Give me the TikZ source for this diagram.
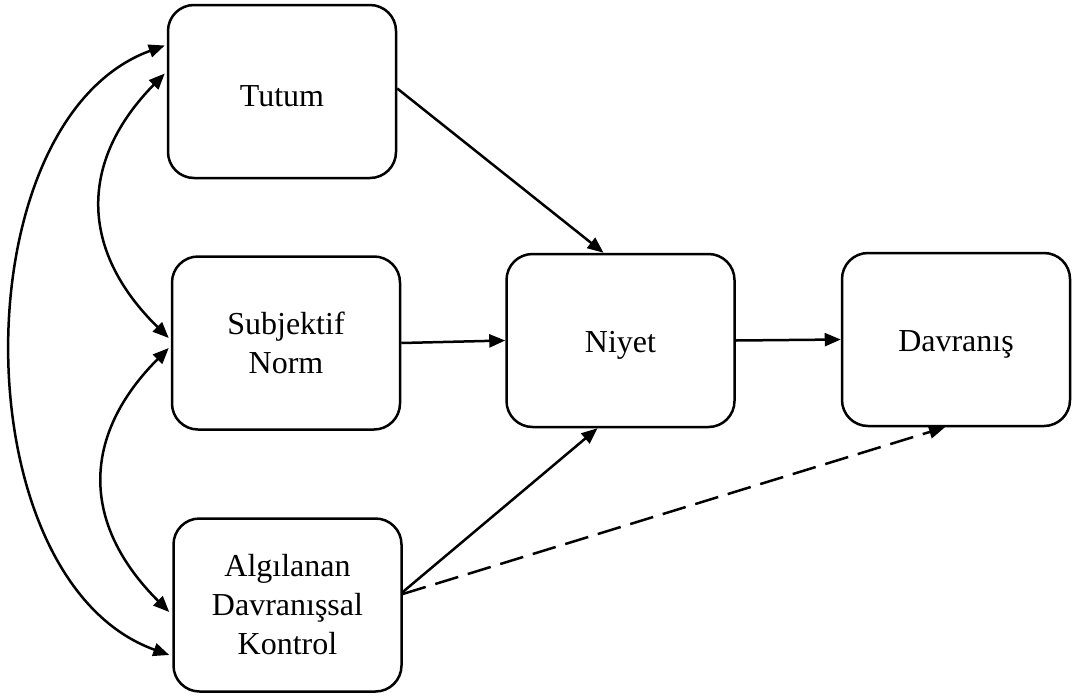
\documentclass[tikz,border=0pt]{standalone}
\usepackage{fontspec}
\setmainfont{Liberation Serif}
\usetikzlibrary{arrows.meta,calc}
\begin{document}
\begin{tikzpicture}[x=1pt,y=-1pt,
  box/.style={draw,line width=2.5pt,rounded corners=26pt,
    minimum width=228pt,minimum height=173pt,inner sep=0pt,
    align=center,font=\fontsize{32}{39}\selectfont},
  oneline/.style={execute at begin node={\rule{0pt}{30pt}}},
  link/.style={line width=2.5pt,-{Triangle[length=16pt,width=13pt]}},
  both/.style={line width=2.5pt,{Triangle[length=16pt,width=13pt]}-{Triangle[length=16pt,width=13pt]}}]
\useasboundingbox (0,0) rectangle (1075,696);

% constructs of the model
\node[box,oneline] (tutum) at (282,91.5)  {Tutum};
\node[box] (norm)  at (286,343)   {Subjektif\\Norm};
\node[box] (adk)   at (287.5,605) {Algılanan\\Davranışsal\\Kontrol};
\node[box,oneline] (niyet) at (620.5,340.5) {Niyet};
\node[box,oneline] (dav)   at (956,339.5) {Davranış};

% end points of the correlation arcs
\coordinate (t1) at ($(tutum.west)+(-2,-46)$);
\coordinate (t2) at ($(tutum.west)+(-2,-18)$);
\coordinate (n1) at ($(norm.west)+(-2,-5)$);
\coordinate (n2) at ($(norm.west)+(-2,5)$);
\coordinate (a1) at ($(adk.west)+(-3,7)$);
\coordinate (a2) at ($(adk.west)+(-3,50)$);

% correlations between the predictors
\draw[both] (t1) .. controls (-40,120) and (-40,580) .. (a2);
\draw[both] (t2) .. controls (79,161) and (79,250) .. (n1);
\draw[both] (n2) .. controls (81,436) and (81,524) .. (a1);

% direct paths
\draw[link] ($(tutum.east)+(0,-3)$) -- ($(niyet.north)+(-17,0)$);
\draw[link] (norm.east) -- (niyet.west);
\draw[link] ($(adk.east)+(0,-13)$) -- ($(niyet.south)+(-23,0)$);
\draw[link] (niyet.east) -- (dav.west);
\draw[link,dash pattern=on 24pt off 10pt] ($(adk.east)+(0,-11)$) -- ($(dav.south)+(-11,0)$);
\end{tikzpicture}
\end{document}
